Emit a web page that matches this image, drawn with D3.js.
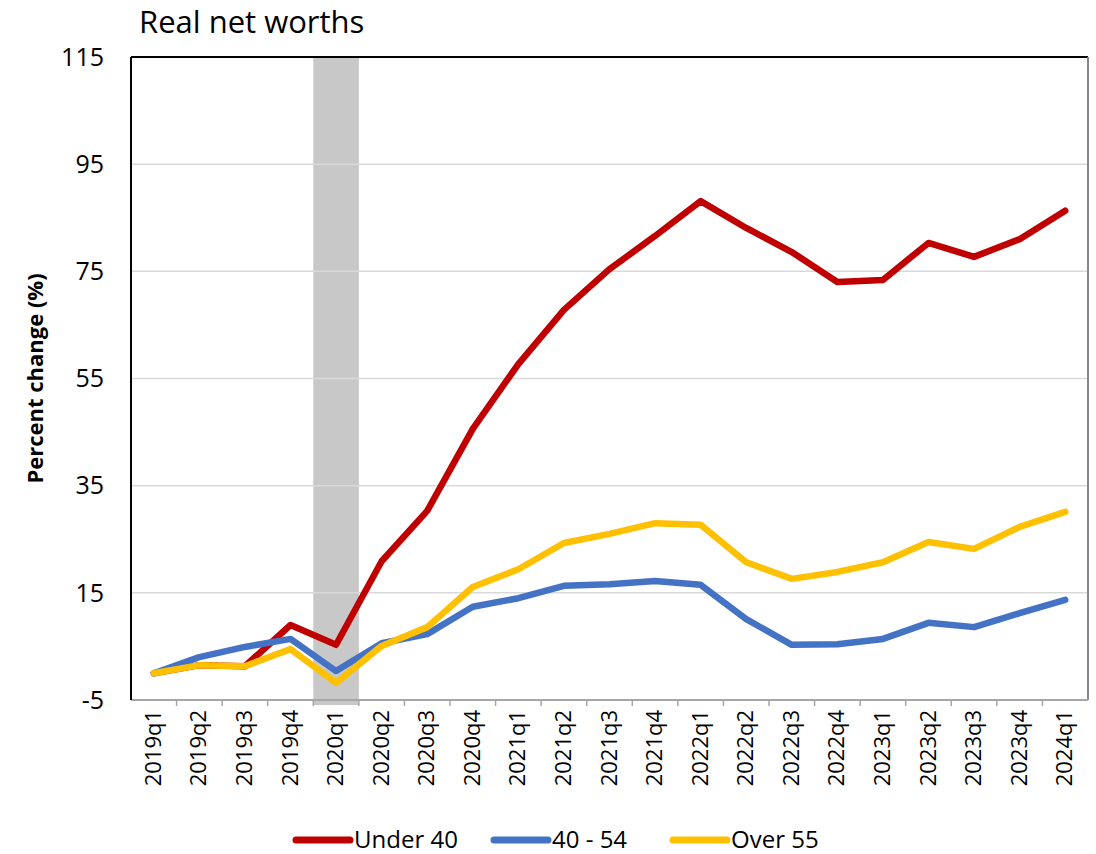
<!DOCTYPE html>
<html>
<head>
<meta charset="utf-8">
<script src="https://cdn.jsdelivr.net/npm/d3@7"></script>
<style>
  body { margin: 0; background: #fff; }
  svg { font-family: "Open Sans", sans-serif; }
</style>
</head>
<body>
<svg id="chart" width="1096" height="854"></svg>
<script>
// quarters on the x axis
const quarters = ["2019q1","2019q2","2019q3","2019q4","2020q1","2020q2","2020q3","2020q4",
  "2021q1","2021q2","2021q3","2021q4","2022q1","2022q2","2022q3","2022q4",
  "2023q1","2023q2","2023q3","2023q4","2024q1"];

// percent change since 2019q1
const under40 = [0, 1.5, 1.3, 9.0, 5.3, 20.9, 30.3, 45.6, 57.7, 67.8, 75.4, 81.6, 88.1, 83.1, 78.6, 73.0, 73.4, 80.3, 77.7, 81.0, 86.3];
const age40to54 = [0, 3.0, 4.9, 6.4, 0.4, 5.6, 7.3, 12.4, 14.0, 16.3, 16.6, 17.2, 16.5, 10.1, 5.3, 5.4, 6.4, 9.4, 8.6, 11.2, 13.7];
const over55 = [0, 1.5, 1.3, 4.5, -1.8, 5.1, 8.6, 16.1, 19.4, 24.3, 26.0, 28.0, 27.7, 20.7, 17.6, 18.9, 20.7, 24.5, 23.2, 27.3, 30.1];

const yTicks = [-5, 15, 35, 55, 75, 95, 115];
const shadedQuarter = "2020q1";

const series = [
  { name: "Under 40", values: under40, color: "#C00000" },
  { name: "40 - 54", values: age40to54, color: "#4472C4" },
  { name: "Over 55", values: over55, color: "#FFC000" }
];

const svg = d3.select("#chart");
const plotLeft = 131, plotRight = 1088, plotTop = 57, plotBottom = 700;

const x = d3.scaleBand().domain(quarters).range([plotLeft, plotRight]);
const y = d3.scaleLinear().domain([-5, 115]).range([plotBottom, plotTop]);

// shaded recession quarter
svg.append("rect")
  .attr("x", x(shadedQuarter))
  .attr("y", plotTop)
  .attr("width", x.bandwidth())
  .attr("height", plotBottom - plotTop + 5)
  .attr("fill", "#C8C8C8");

// gridlines
svg.append("g")
  .selectAll("line")
  .data(yTicks.filter(d => d > -5 && d < 115))
  .enter()
  .append("line")
  .attr("x1", plotLeft).attr("x2", plotRight)
  .attr("y1", d => y(d)).attr("y2", d => y(d))
  .attr("stroke", "#D9D9D9")
  .attr("stroke-width", 1.5);

// frame
svg.append("line").attr("x1", plotLeft).attr("x2", plotRight).attr("y1", plotTop).attr("y2", plotTop)
  .attr("stroke", "#000").attr("stroke-width", 2);
svg.append("line").attr("x1", plotRight).attr("x2", plotRight).attr("y1", plotTop).attr("y2", plotBottom)
  .attr("stroke", "#888").attr("stroke-width", 2);

// x axis with ticks between categories
const xAxis = svg.append("g").attr("transform", `translate(0,${plotBottom})`);
xAxis.append("line").attr("x1", plotLeft).attr("x2", plotRight).attr("stroke", "#A6A6A6").attr("stroke-width", 2);
xAxis.selectAll(".tick")
  .data(quarters.slice(1))
  .enter()
  .append("line")
  .attr("x1", d => x(d)).attr("x2", d => x(d))
  .attr("y1", 0).attr("y2", 6)
  .attr("stroke", "#A6A6A6").attr("stroke-width", 1.5);
xAxis.selectAll("text")
  .data(quarters)
  .enter()
  .append("text")
  .attr("transform", d => `translate(${x(d) + x.bandwidth() / 2 + 7},10) rotate(-90)`)
  .attr("text-anchor", "end")
  .attr("font-size", 22)
  .attr("fill", "#000")
  .text(d => d);

// y axis
svg.append("line").attr("x1", plotLeft).attr("x2", plotLeft).attr("y1", plotTop).attr("y2", plotBottom)
  .attr("stroke", "#000").attr("stroke-width", 2);
svg.append("g")
  .selectAll("text")
  .data(yTicks)
  .enter()
  .append("text")
  .attr("x", 104)
  .attr("y", d => y(d))
  .attr("dy", "0.35em")
  .attr("text-anchor", "end")
  .attr("font-size", 25)
  .text(d => d);

svg.append("text")
  .attr("transform", `translate(43,${(plotTop + plotBottom) / 2}) rotate(-90)`)
  .attr("text-anchor", "middle")
  .attr("font-size", 22)
  .attr("font-weight", "bold")
  .text("Percent change (%)");

// title
svg.append("text")
  .attr("x", 139)
  .attr("y", 33)
  .attr("font-size", 31)
  .text("Real net worths");

// lines
const line = d3.line()
  .x((d, i) => x(quarters[i]) + x.bandwidth() / 2)
  .y(d => y(d));

svg.append("g")
  .selectAll("path")
  .data(series)
  .enter()
  .append("path")
  .attr("d", d => line(d.values))
  .attr("fill", "none")
  .attr("stroke", d => d.color)
  .attr("stroke-width", 6.5)
  .attr("stroke-linejoin", "round")
  .attr("stroke-linecap", "round");

// legend
const legendX = [296, 494, 673];
const legend = svg.append("g")
  .selectAll("g")
  .data(series)
  .enter()
  .append("g")
  .attr("transform", (d, i) => `translate(${legendX[i]},840)`);
legend.append("line")
  .attr("x1", 0).attr("x2", 54)
  .attr("stroke", d => d.color)
  .attr("stroke-width", 7)
  .attr("stroke-linecap", "round");
legend.append("text")
  .attr("x", 58)
  .attr("dy", "0.35em")
  .attr("font-size", 24)
  .text(d => d.name);
</script>
</body>
</html>
